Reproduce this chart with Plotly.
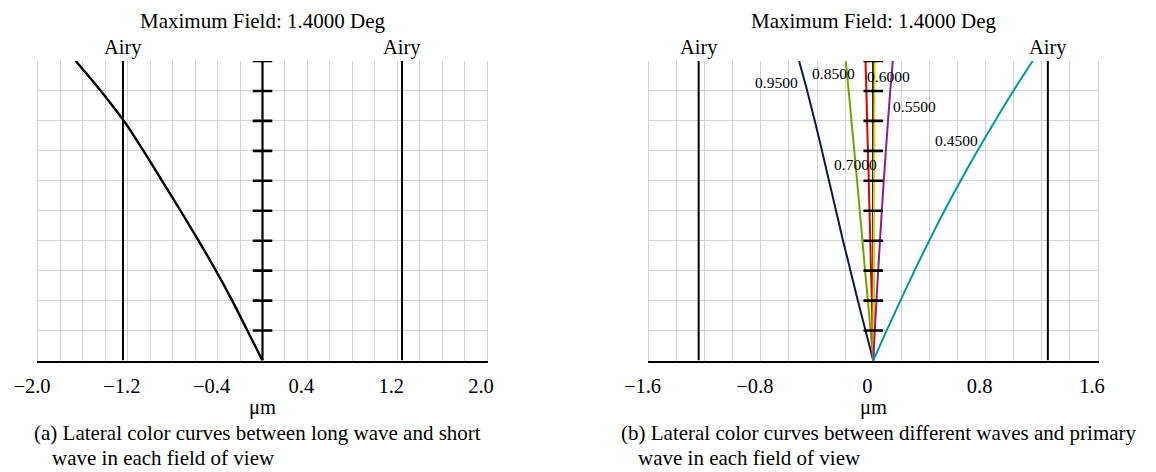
import plotly.graph_objects as go

W, H = 1156, 472
FONT = "Liberation Serif, Times New Roman, serif"

# ---------------- data ----------------
FIELD = [0.0, 0.1, 0.2, 0.3, 0.4, 0.5, 0.6, 0.7, 0.8, 0.9, 1.0]
AIRY_RADIUS = 1.243
TITLE_TEXT = "Maximum Field: 1.4000 Deg"
UNIT = "μm"

# (a) long wave minus short wave lateral colour (um)
LONG_SHORT = [0.0, -0.135, -0.27, -0.415, -0.57, -0.73, -0.895, -1.06, -1.235, -1.44, -1.664]

# (b) each wave minus primary wave (um)
WAVE_NAMES = ["0.9500", "0.8500", "0.7000", "0.6000", "0.5500", "0.4500"]
W0950 = [0.0, -0.055, -0.11, -0.162, -0.215, -0.265, -0.315, -0.365, -0.416, -0.47, -0.528]
W0850 = [0.0, -0.019, -0.038, -0.058, -0.077, -0.096, -0.115, -0.135, -0.155, -0.175, -0.196]
W0700 = [0.0, -0.005, -0.01, -0.016, -0.021, -0.027, -0.032, -0.038, -0.044, -0.049, -0.055]
W0600 = [0.0, 0.001, 0.002, 0.003, 0.004, 0.005, 0.006, 0.007, 0.008, 0.009, 0.01]
W0550 = [0.0, 0.011, 0.023, 0.035, 0.048, 0.061, 0.075, 0.09, 0.105, 0.121, 0.139]
W0450 = [0.0, 0.095, 0.194, 0.294, 0.398, 0.507, 0.622, 0.742, 0.867, 0.997, 1.135]
WAVE_SERIES = [W0950, W0850, W0700, W0600, W0550, W0450]

TICKS_A = [-2.0, -1.2, -0.4, 0.4, 1.2, 2.0]
TICKTEXT_A = ["−2.0", "−1.2", "−0.4", "0.4", "1.2", "2.0"]
TICKS_B = [-1.6, -0.8, 0.0, 0.8, 1.6]
TICKTEXT_B = ["−1.6", "−0.8", "0", "0.8", "1.6"]
RANGE_A = [-2.0, 2.0]
RANGE_B = [-1.6, 1.6]

CAPTION_A = ["(a) Lateral color curves between long wave and short",
             "wave in each field of view"]
CAPTION_B = ["(b) Lateral color curves between different waves and primary",
             "wave in each field of view"]

# ---------------- styles / positions ----------------
WAVE_COLORS = ["#0b1a4d", "#6aa800", "#e00000", "#e6d400", "#8e1f86", "#00999c"]
# label positions (x in um, y in field fraction) for wave labels
LABEL_POS = [(-0.686, 0.929), (-0.285, 0.959), (-0.128, 0.653),
             (0.105, 0.948), (0.292, 0.847), (0.596, 0.736)]

GRID = "#d4d4d4"

def px_x(p):
    return p / W

def px_y(p):
    return 1 - p / H

DOM_A = [px_x(38), px_x(487)]
DOM_B = [px_x(648.5), px_x(1098)]
DOM_Y = [px_y(360.5), px_y(61)]

fig = go.Figure()

def add_panel(xa, ya, airy):
    # Airy disc limits
    for s in (-1, 1):
        fig.add_trace(go.Scatter(x=[s * airy] * 2, y=[FIELD[0], FIELD[-1]], mode="lines",
                                 line=dict(color="black", width=2), xaxis=xa, yaxis=ya,
                                 hoverinfo="skip"))

def add_center(xa, ya):
    fig.add_trace(go.Scatter(x=[0.0] * len(FIELD), y=FIELD, mode="lines",
                             line=dict(color="black", width=2.2), xaxis=xa, yaxis=ya,
                             hoverinfo="skip"))

def add_ticks(xa, ya):
    fig.add_trace(go.Scatter(x=[0.0] * (len(FIELD) - 1), y=FIELD[1:], mode="markers",
                             marker=dict(symbol="line-ew", size=14,
                                         line=dict(color="black", width=2.6)),
                             xaxis=xa, yaxis=ya, hoverinfo="skip"))

# panel (a)
add_panel("x", "y", AIRY_RADIUS)
add_center("x", "y")
fig.add_trace(go.Scatter(x=LONG_SHORT, y=FIELD, mode="lines", line_shape="spline",
                         line=dict(color="black", width=2.4), xaxis="x", yaxis="y"))
add_ticks("x", "y")

# panel (b)
add_panel("x2", "y2", AIRY_RADIUS)
add_center("x2", "y2")
for vals, col in zip(WAVE_SERIES, WAVE_COLORS):
    fig.add_trace(go.Scatter(x=vals, y=FIELD, mode="lines", line_shape="spline",
                             line=dict(color=col, width=2), xaxis="x2", yaxis="y2"))
add_ticks("x2", "y2")

annotations = []
for name, (lx, ly) in zip(WAVE_NAMES, LABEL_POS):
    annotations.append(dict(x=lx, y=ly, xref="x2", yref="y2", text=name, showarrow=False,
                            font=dict(family=FONT, size=15.5, color="black"),
                            xanchor="center", yanchor="middle"))

for dom, xref in ((DOM_A, "x"), (DOM_B, "x2")):
    cx = (dom[0] + dom[1]) / 2
    annotations.append(dict(x=cx, y=px_y(21), xref="paper", yref="paper", text=TITLE_TEXT,
                            showarrow=False, font=dict(family=FONT, size=21, color="black"),
                            xanchor="center", yanchor="middle"))
    for s in (-1, 1):
        annotations.append(dict(x=s * AIRY_RADIUS, y=px_y(48), xref=xref, yref="paper",
                                text="Airy", showarrow=False,
                                font=dict(family=FONT, size=20.5, color="black"),
                                xanchor="center", yanchor="middle"))
    annotations.append(dict(x=cx, y=px_y(407), xref="paper", yref="paper", text=UNIT,
                            showarrow=False, font=dict(family=FONT, size=20.5, color="black"),
                            xanchor="center", yanchor="middle"))

for cap, x1, x2 in ((CAPTION_A, 31.5, 50), (CAPTION_B, 618.5, 636)):
    annotations.append(dict(x=px_x(x1), y=px_y(433), xref="paper", yref="paper", text=cap[0],
                            showarrow=False, font=dict(family=FONT, size=21, color="black"),
                            xanchor="left", yanchor="middle"))
    annotations.append(dict(x=px_x(x2), y=px_y(458), xref="paper", yref="paper", text=cap[1],
                            showarrow=False, font=dict(family=FONT, size=21, color="black"),
                            xanchor="left", yanchor="middle"))

def xaxis_cfg(dom, rng, tv, tt, anchor):
    return dict(domain=dom, range=rng, anchor=anchor, tickmode="array", tickvals=tv, ticktext=tt,
                showgrid=True, gridcolor=GRID, gridwidth=1,
                minor=dict(dtick=0.2, tick0=0, showgrid=True, gridcolor=GRID, gridwidth=1),
                showline=True, linecolor="black", linewidth=2.2, zeroline=False, ticks="",
                tickfont=dict(family=FONT, size=20.5, color="black"),
                ticklabelshift=-6, ticklabelstandoff=6, fixedrange=True, automargin=False)

def yaxis_cfg(anchor):
    return dict(domain=DOM_Y, range=[0, 1], anchor=anchor, dtick=0.1, tick0=0,
                showticklabels=False, showgrid=True, gridcolor=GRID, gridwidth=1,
                zeroline=False, showline=True, linecolor=GRID, linewidth=1, mirror=True,
                ticks="", fixedrange=True, automargin=False)

fig.update_layout(
    width=W, height=H, margin=dict(l=0, r=0, t=0, b=0, autoexpand=False),
    paper_bgcolor="white", plot_bgcolor="white", showlegend=False,
    xaxis=xaxis_cfg(DOM_A, RANGE_A, TICKS_A, TICKTEXT_A, "y"),
    yaxis=yaxis_cfg("x"),
    xaxis2=xaxis_cfg(DOM_B, RANGE_B, TICKS_B, TICKTEXT_B, "y2"),
    yaxis2=yaxis_cfg("x2"),
    annotations=annotations,
)

fig.write_html("out.html", config={"displayModeBar": False})
